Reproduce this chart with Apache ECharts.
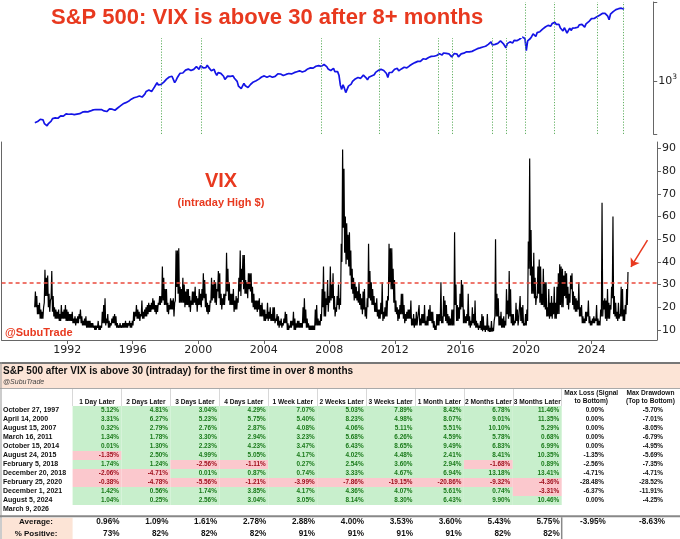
<!DOCTYPE html>
<html><head><meta charset="utf-8">
<script src="https://cdn.jsdelivr.net/npm/echarts@6/dist/echarts.min.js"></script>
<style>html,body{margin:0;padding:0;background:#fff}#c{width:680px;height:539px}</style>
</head><body><div id="c"></div>
<script>
// ---------------- DATA ----------------
const chartTitle = 'S&P 500: VIX is above 30 after 8+ months';
const seriesStartYear = 1990; // monthly samples start January 1990
// S&P 500 monthly level
const sp500 = [
329,332,340,331,361,358,356,322,306,304,322,330,
344,367,375,375,390,371,387,395,388,392,375,417,
409,413,404,415,415,408,424,414,418,419,431,436,
439,443,452,440,450,451,448,464,459,468,462,466,
482,467,446,451,457,444,458,475,463,472,454,459,
471,487,501,515,533,545,562,562,584,582,605,616,
636,640,646,654,669,671,640,652,687,705,757,741,
786,791,757,801,848,885,954,899,947,915,955,970,
980,1049,1102,1112,1091,1134,1121,957,1017,1099,1164,1229,
1280,1238,1286,1335,1302,1373,1329,1320,1283,1363,1389,1469,
1394,1366,1499,1452,1421,1455,1431,1518,1437,1429,1315,1320,
1366,1240,1160,1249,1256,1224,1211,1134,1041,1060,1139,1148,
1130,1107,1147,1077,1067,990,870,916,815,800,936,880,
856,841,848,917,964,975,990,1008,996,1051,1058,1112,
1131,1145,1126,1107,1121,1141,1102,1104,1115,1130,1174,1212,
1181,1204,1181,1157,1192,1191,1234,1220,1229,1207,1249,1248,
1280,1281,1295,1311,1270,1270,1277,1304,1336,1378,1401,1418,
1438,1407,1421,1482,1531,1503,1455,1474,1527,1549,1481,1468,
1379,1331,1323,1386,1400,1280,1267,1283,1166,900,800,903,
826,735,700,873,919,919,987,1021,1057,1036,1096,1115,
1074,1104,1169,1187,1089,1031,1102,1049,1141,1183,1181,1258,
1286,1327,1326,1364,1345,1321,1292,1219,1100,1253,1247,1258,
1312,1366,1408,1398,1310,1362,1379,1407,1441,1412,1416,1426,
1498,1515,1569,1598,1631,1606,1686,1633,1682,1757,1806,1848,
1783,1859,1872,1884,1924,1960,1931,2003,1972,2018,2068,2059,
1995,2105,2068,2086,2107,2063,2104,1900,1920,2079,2080,2044,
1900,1880,2060,2065,2097,2099,2174,2171,2168,2126,2199,2239,
2279,2364,2363,2384,2412,2423,2470,2472,2519,2575,2648,2674,
2824,2620,2641,2648,2705,2718,2816,2902,2914,2712,2760,2420,
2704,2784,2834,2946,2752,2942,2980,2926,2977,3038,3141,3231,
3226,3100,2240,2912,3044,3100,3271,3500,3363,3270,3622,3756,
3714,3811,3973,4181,4204,4298,4395,4523,4308,4605,4567,4766,
4516,4374,4530,4132,4132,3785,4130,3955,3586,3750,4080,3840,
4077,3970,4109,4169,4180,4450,4589,4508,4288,4194,4568,4770,
4846,5096,5254,5036,5278,5460,5522,5648,5762,5705,6032,5882,
6041,5955,5612,5100,5912,6205,6339,6460,6688,6840,6849,6845,
6940,6880,6740
];
// VIX intraday high: monthly low and monthly high
const vixLow = [
20,20,17,17,15,15,15,22,25,25,20,18,
24,18,16,15,15,15,14,14,15,15,15,14,
14,14,14,14,13,13,12,13,13,15,13,12,
12,12,11,11,11,11,11,11,10,10,11,10,
10,11,13,13,12,13,11,11,12,13,13,12,
11,11,11,11,11,11,11,11,11,12,11,11,
12,14,16,15,15,14,16,15,15,16,16,17,
18,18,19,19,18,17,18,21,21,22,23,21,
21,18,17,19,19,19,16,23,29,26,22,22,
22,22,20,21,21,20,18,21,21,22,21,18,
21,21,20,23,24,20,18,17,18,22,23,24,
22,21,27,24,21,19,21,21,25,27,23,21,
21,21,18,19,19,22,27,25,32,28,26,26,
24,28,27,22,20,19,19,18,19,16,16,16,
14,14,15,14,15,14,14,14,13,14,12,11,
12,11,12,13,13,10,10,11,11,12,10,10,
11,11,11,11,11,13,13,11,11,10,10,10,
10,10,12,12,12,12,14,20,16,16,21,18,
22,23,24,19,16,18,21,19,21,40,55,44,
39,41,38,34,28,26,23,24,23,22,21,19,
17,19,16,15,20,24,23,21,21,18,18,16,
15,15,17,14,15,16,16,23,31,28,28,22,
18,17,14,15,17,17,15,13,14,15,15,15,
12,12,11,12,12,15,12,12,13,13,12,12,
12,14,14,13,11,10,10,12,12,14,13,13,
16,14,13,12,12,12,12,12,21,14,14,15,
19,20,13,13,13,14,12,11,12,13,12,11,
11,10,11,10,9.5,10,9.2,10,9.5,9.2,9.2,9.3,
9.5,16,16,16,12,12,11,11,11,12,17,15,
16,13,12,12,13,14,12,15,14,13,12,12,
12,14,37,34,26,26,24,21,24,26,22,21,
21,20,19,16,16,15,16,15,17,15,15,17,
17,21,20,20,25,24,21,19,22,28,21,19,
18,18,19,16,16,13,13,13,14,16,13,12,
12,13,13,14,12,12,12,16,16,19,15,14,
15,15,19,24,17,16,15,14,15,16,16,14,
14,17,21
];
const vixHigh = [
27,25,21,22,19,18,20,36.5,33,34,26,23,
36,25,20,19,18,19,17,21,18,19,21,19,
18,17,17,18,15,16,15,16,17,19,16,14,
15,16,14,14,14,13,13,12,12,12,14,12,
12,18,21,24,15,17,14,13,15,16,17,16,
13,12,13,12,13,13,14,13,13,14,13,14,
18,18,21,19,18,17,23,18,19,20,21,22,
21,22,24,23,21,21,22,25,25,38,33,28,
28,22,21,24,23,24,22,45,45,46,29,28,
33,30,27,28,28,25,23,27,27,29,25,24,
28,26,28,35,32,26,22,21,23,33,30,32,
31,28,36,35,26,24,26,26,44,37,31,26,
26,28,23,25,24,33,45,37,43,43,32,31,
35,35,35,29,26,23,23,23,24,21,22,19,
19,17,22,18,20,17,20,20,15,17,16,14,
15,13,15,18,17,13,12,14,14,18,15,13,
14,14,13,13,20,24,19,15,13,12,12,12,
12,19,21,15,14,17,28,38,27,24,32,25,
38,30,35,25,20,25,30,24,48,89.5,81,60,
57,52,53,45,37,33,31,29,27,31,26,24,
27,28,20,24,48,36,31,28,25,22,24,19,
19,22,31,18,20,23,25,48,46,46,37,32,
23,20,19,21,26,26,21,17,18,19,19,23,
15,17,15,18,15,21,15,17,17,21,14,16,
19,21,18,18,14,12,17,17,17,31,16,25,
23,21,17,16,15,19,19,53,30,21,20,26,
32,30,19,16,17,26,16,14,20,17,23,14,
13,12,14,17,16,12,12,17,12,11,14,11,
14,50,26,24,16,18,15,16,14,28,23,36,
28,17,17,14,22,19,15,25,20,21,13,17,
19,49,85.5,54,38,44,33,25,38,41,38,26,
37,31,31,20,28,22,25,22,29,22,29,35,
39,38,37,34,36,35,29,26,34,35,27,25,
24,23,31,20,21,16,15,18,18,23,16,14,
15,16,15,21,15,14,19,66,23,24,23,28,
22,21,29,60,25,22,18,22,17,29,28,19,
21,28,35.5
];
const vixThreshold = 31;
const vixTitle = 'VIX';
const vixSubtitle = '(intraday High $)';
const handle = '@SubuTrade';

// Table
const tableTitle = 'S&P 500 after VIX is above 30 (intraday) for the first time in over 8 months';
const eventDates = ['October 27, 1997','April 14, 2000','August 15, 2007','March 16, 2011','October 15, 2014',
  'August 24, 2015','February 5, 2018','December 20, 2018','February 25, 2020','December 1, 2021','August 5, 2024','March 9, 2026'];
const columns = ['1 Day Later','2 Days Later','3 Days Later','4 Days Later','1 Week Later','2 Weeks Later',
  '3 Weeks Later','1 Month Later','2 Months Later','3 Months Later'];
const maxColumns = ['Max Loss (Signal\nto Bottom)','Max Drawdown\n(Top to Bottom)'];
const returns = [
  [5.12,4.81,3.04,4.29,7.07,5.03,7.89,8.42,6.78,11.46],
  [3.31,6.27,5.23,5.75,5.40,8.23,4.98,8.07,9.01,11.35],
  [0.32,2.79,2.76,2.87,4.08,4.06,5.11,5.51,10.10,5.29],
  [1.34,1.78,3.30,2.94,3.23,5.68,6.26,4.59,5.78,0.68],
  [0.01,1.30,2.23,4.23,3.47,6.43,8.65,9.49,6.83,6.99],
  [-1.35,2.50,4.99,5.05,4.17,4.02,4.48,2.41,8.41,10.35],
  [1.74,1.24,-2.56,-1.11,0.27,2.54,3.60,2.94,-1.68,0.89],
  [-2.06,-4.71,0.01,0.87,0.74,3.33,4.67,6.94,13.18,13.41],
  [-0.38,-4.78,-5.56,-1.21,-3.99,-7.86,-19.15,-20.86,-9.32,-4.36],
  [1.42,0.56,1.74,3.85,4.17,4.36,4.07,5.61,0.74,-3.31],
  [1.04,0.25,2.56,3.04,3.05,8.14,8.30,6.43,9.90,10.46]
];
const maxLoss = [0.00,0.00,0.00,0.00,0.00,-1.35,-2.56,-4.71,-28.48,-6.37,0.00];
const maxDrawdown = [-5.70,-7.01,-8.05,-6.79,-4.95,-5.69,-7.35,-4.71,-28.52,-11.91,-4.25];
const summaryLabels = ['Average:','% Positive:'];
const averages = [0.96,1.09,1.61,2.78,2.88,4.00,3.53,3.60,5.43,5.75];
const pctPositive = [73,82,82,82,91,91,91,91,82,82];
const averageMax = [-3.95,-8.63];

// ---------------- BUILD ----------------
const RED = '#e8391f';
const ARIAL = '"Liberation Sans", Arial, sans-serif';
function fracYear(s){
  const d = new Date(s); const y = d.getFullYear();
  const t = Date.UTC(y, d.getMonth(), d.getDate());
  return y + (t - Date.UTC(y,0,1)) / (Date.UTC(y+1,0,1) - Date.UTC(y,0,1));
}
const spData = sp500.map((v,i)=>[seriesStartYear + (i+0.5)/12, v]);
const vixData = [];
vixLow.forEach((l,i)=>{
  vixData.push([seriesStartYear + (i+0.25)/12, l]);
  vixData.push([seriesStartYear + (i+0.75)/12, vixHigh[i]]);
});
const eventYears = eventDates.map(fracYear);

const cellData = [];
returns.forEach((row,r)=>row.forEach((v,c)=>cellData.push([c,r,v])));
const maxData = [];
maxLoss.forEach((v,r)=>maxData.push([0,r,v]));
maxDrawdown.forEach((v,r)=>maxData.push([1,r,v]));
const sumData = [];
averages.forEach((v,c)=>sumData.push([c,0,v]));
pctPositive.forEach((v,c)=>sumData.push([c,1,v]));
const sumMaxData = averageMax.map((v,c)=>[c,0,v]);

function cellRender(params, api){
  const c = api.value(0), r = api.value(1), v = api.value(2);
  const p = api.coord([c,r]); const s = api.size([1,1]);
  const neg = v < 0;
  return {type:'group', children:[
    {type:'rect', shape:{x:p[0]-s[0]/2, y:p[1]-s[1]/2, width:s[0], height:s[1]},
     style:{fill: neg ? '#fbc8cd' : '#c8efcc'}},
    {type:'text', x:p[0]+s[0]/2-2.5, y:p[1],
     style:{text: v.toFixed(2)+'%', fill: neg ? '#a0101e' : '#1a7a1a',
       font:'bold 6.4px '+ARIAL, align:'right', verticalAlign:'middle'}}
  ]};
}
function maxRender(params, api){
  const c = api.value(0), r = api.value(1), v = api.value(2);
  const p = api.coord([c,r]); const s = api.size([1,1]);
  return {type:'text', x:p[0]+s[0]/2-17, y:p[1],
    style:{text: v.toFixed(2)+'%', fill:'#111', font:'bold 6.4px '+ARIAL, align:'right', verticalAlign:'middle'}};
}
function sumRender(params, api){
  const c = api.value(0), r = api.value(1), v = api.value(2);
  const p = api.coord([c,r]); const s = api.size([1,1]);
  return {type:'text', x:p[0]+s[0]/2-2, y:p[1],
    style:{text: r===0 ? v.toFixed(2)+'%' : v+'%', fill:'#111', font:'bold 8.2px '+ARIAL, align:'right', verticalAlign:'middle'}};
}
function sumMaxRender(params, api){
  const c = api.value(0), r = api.value(1), v = api.value(2);
  const p = api.coord([c,r]); const s = api.size([1,1]);
  return {type:'text', x:p[0]+s[0]/2-15, y:p[1],
    style:{text: v.toFixed(2)+'%', fill:'#111', font:'bold 8.2px '+ARIAL, align:'right', verticalAlign:'middle'}};
}

const axisGray = '#666';
const tblL = 72.6, tblSplit = 561.7, rowTop = 406, rowH = 9.0;
const sumTop = 516.3, sumH = 24;
const hiddenCat = (grid, data)=>({type:'category', gridIndex:grid, data, inverse:true, show:false});

const option = {
  animation:false,
  backgroundColor:'#fff',
  textStyle:{fontFamily:'"DejaVu Sans", sans-serif'},
  title:{text:chartTitle, left:40, top:0, padding:[7,39,9,11], backgroundColor:'#fff',
    textStyle:{color:RED, fontSize:22, fontWeight:'bold', fontFamily:ARIAL}},
  grid:[
    {left:1.6, right:23, top:2, height:132},
    {left:1.6, right:23, top:142, height:198},
    {left:tblL, top:rowTop, width:tblSplit-tblL, height:rowH*eventDates.length},
    {left:tblSplit, top:rowTop, width:680-tblSplit, height:rowH*eventDates.length},
    {left:tblL, top:sumTop, width:tblSplit-tblL, height:sumH},
    {left:tblSplit, top:sumTop, width:680-tblSplit, height:sumH}
  ],
  xAxis:[
    {type:'value', gridIndex:0, min:1988, max:2028, show:false},
    {type:'value', gridIndex:1, min:1988, max:2028, interval:4,
      axisLine:{show:true, lineStyle:{color:axisGray}}, axisTick:{show:true, length:4, lineStyle:{color:axisGray}},
      splitLine:{show:false},
      axisLabel:{showMinLabel:false, showMaxLabel:false, fontSize:11, color:'#222', margin:5, formatter:v=>String(v)}},
    {type:'category', gridIndex:2, data:columns, position:'top',
      axisLine:{show:false}, axisTick:{show:true, length:17, lineStyle:{color:'#d8d8d8'}},
      axisLabel:{interval:0, fontSize:6.6, fontWeight:'bold', color:'#111', margin:0.5, fontFamily:ARIAL}},
    {type:'category', gridIndex:3, data:maxColumns, position:'top',
      axisLine:{show:false}, axisTick:{show:false},
      axisLabel:{interval:0, fontSize:6.6, fontWeight:'bold', color:'#111', margin:0.5, lineHeight:8.5, fontFamily:ARIAL}},
    {type:'category', gridIndex:4, data:columns, show:false},
    {type:'category', gridIndex:5, data:maxColumns, show:false}
  ],
  yAxis:[
    {type:'log', logBase:10, gridIndex:0, min:244, max:8185, position:'right',
      axisLine:{show:true, lineStyle:{color:axisGray}}, axisTick:{show:true, length:4, lineStyle:{color:axisGray}},
      splitLine:{show:false},
      axisLabel:{margin:5, color:'#222', fontSize:11,
        formatter:v=> Math.abs(v-1000)<1 ? '{b|10}{s|3}' : '',
        rich:{b:{fontSize:11, color:'#222'}, s:{fontSize:7.5, color:'#222', padding:[0,0,7,0]}}}},
    {type:'value', gridIndex:1, min:5.6, max:92.8, splitNumber:9, position:'right',
      axisLine:{show:true, lineStyle:{color:axisGray}}, axisTick:{show:true, length:4, lineStyle:{color:axisGray}},
      splitLine:{show:false},
      axisLabel:{fontSize:11, color:'#222', margin:5, showMinLabel:false, showMaxLabel:false,
        formatter:v=> (Math.abs(v%10)<1e-6 && v>=10 && v<=90) ? String(v) : ''}},
    {type:'value', gridIndex:1, min:5.6, max:92.8, position:'left',
      axisLine:{show:true, lineStyle:{color:axisGray}}, axisTick:{show:false}, axisLabel:{show:false}, splitLine:{show:false}},
    {type:'category', gridIndex:2, data:eventDates, inverse:true,
      axisLine:{show:false}, axisTick:{show:false},
      axisLabel:{interval:0, align:'left', margin:tblL-3, fontSize:7, fontWeight:'bold', color:'#111', fontFamily:ARIAL}},
    hiddenCat(3, eventDates),
    {type:'category', gridIndex:4, data:summaryLabels, inverse:true,
      axisLine:{show:false}, axisTick:{show:false},
      axisLabel:{interval:0, align:'center', margin:tblL-36, fontSize:8, fontWeight:'bold', color:'#111', fontFamily:ARIAL}},
    hiddenCat(5, summaryLabels)
  ],
  series:[
    {type:'line', xAxisIndex:0, yAxisIndex:0, data:spData, showSymbol:false, z:3,
      lineStyle:{color:'#1414e6', width:1.7},
      markLine:{silent:true, symbol:['none','none'], label:{show:false},
        lineStyle:{color:'#52a852', type:[1.2,1.6], width:0.9},
        data:eventYears.map(x=>({xAxis:x}))}},
    {type:'line', xAxisIndex:1, yAxisIndex:1, data:vixData, showSymbol:false, z:3,
      lineStyle:{color:'#000', width:1.2},
      markLine:{silent:true, symbol:['none','none'], label:{show:false},
        data:[
          {yAxis:vixThreshold, lineStyle:{color:'#ea4a3c', type:[4,3], width:1.5}},
          [{coord:[2027.42,49.6], symbol:'none'}, {coord:[2026.41,37.8], symbol:'arrow', symbolSize:8,
            lineStyle:{color:RED, type:'solid', width:1.5}}]
        ],
        lineStyle:{color:RED, type:'solid', width:1.5}}},
    {type:'custom', xAxisIndex:2, yAxisIndex:3, data:cellData, renderItem:cellRender, silent:true},
    {type:'custom', xAxisIndex:3, yAxisIndex:4, data:maxData, renderItem:maxRender, silent:true},
    {type:'custom', xAxisIndex:4, yAxisIndex:5, data:sumData, renderItem:sumRender, silent:true},
    {type:'custom', xAxisIndex:5, yAxisIndex:6, data:sumMaxData, renderItem:sumMaxRender, silent:true}
  ],
  graphic:[
    {type:'text', x:221, y:181, style:{text:vixTitle, fill:RED, font:'bold 20px '+ARIAL, align:'center', verticalAlign:'middle'}},
    {type:'text', x:221, y:202.5, style:{text:vixSubtitle, fill:RED, font:'bold 11px '+ARIAL, align:'center', verticalAlign:'middle'}},
    {type:'text', x:5, y:333, style:{text:handle, fill:RED, font:'bold 11px '+ARIAL, align:'left', verticalAlign:'middle'}},
    {type:'rect', shape:{x:0, y:364, width:680, height:24}, style:{fill:'#fce4d6'}, z:-1},
    {type:'line', shape:{x1:0, y1:363, x2:680, y2:363}, style:{stroke:'#777', lineWidth:2}},
    {type:'line', shape:{x1:0, y1:388.5, x2:680, y2:388.5}, style:{stroke:'#aaa', lineWidth:1}},
    {type:'line', shape:{x1:1, y1:362, x2:1, y2:539}, style:{stroke:'#999', lineWidth:1}},
    {type:'text', x:3, y:371.5, style:{text:tableTitle, fill:'#111', font:'bold 10px '+ARIAL, align:'left', verticalAlign:'middle'}},
    {type:'text', x:3, y:382, style:{text:handle, fill:'#444', font:'italic 7px '+ARIAL, align:'left', verticalAlign:'middle'}},
    {type:'rect', shape:{x:2, y:sumTop+1.5, width:tblL-2, height:539-sumTop}, style:{fill:'#fce4d6'}, z:-1},
    {type:'line', shape:{x1:0, y1:sumTop, x2:680, y2:sumTop}, style:{stroke:'#888', lineWidth:2}},
    {type:'line', shape:{x1:tblSplit, y1:sumTop+1, x2:tblSplit, y2:539}, style:{stroke:'#888', lineWidth:1.5}}
  ]
};
const chart = echarts.init(document.getElementById('c'), null, {renderer:'canvas'});
chart.setOption(option);
</script></body></html>
